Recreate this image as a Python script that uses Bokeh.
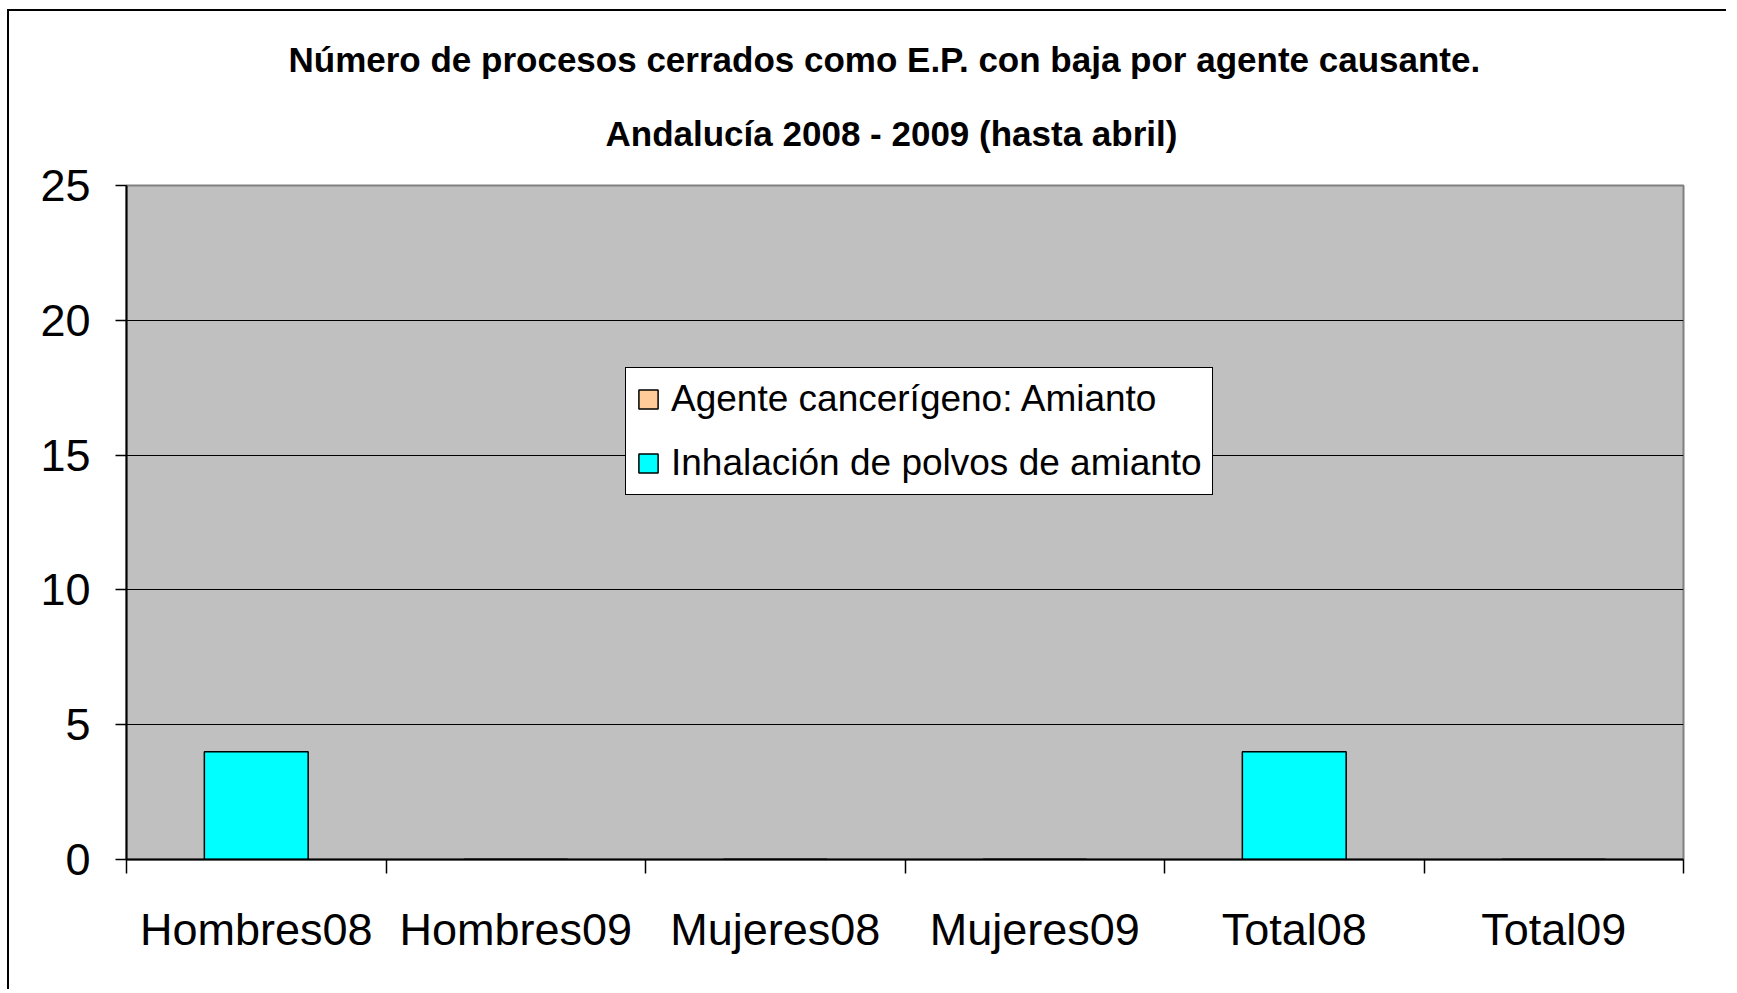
from bokeh.plotting import figure
from bokeh.models import Range1d, FixedTicker, Title, ColumnDataSource
from bokeh.embed import file_html
from bokeh.resources import INLINE

# ---- data ----
categories = ["Hombres08", "Hombres09", "Mujeres08", "Mujeres09", "Total08", "Total09"]
agente_amianto = [0, 0, 0, 0, 0, 0]
inhalacion_polvos = [4, 0, 0, 0, 4, 0]
series_names = ["Agente cancerígeno: Amianto", "Inhalación de polvos de amianto"]
y_ticks = [0, 5, 10, 15, 20, 25]
title_lines = ["Número de procesos cerrados como E.P. con baja por agente causante.",
               "Andalucía 2008 - 2009 (hasta abril)"]

FONT = "Liberation Sans"

n = len(categories)
xs = list(range(n))
source = ColumnDataSource(dict(x=xs, agente=agente_amianto, inhal=inhalacion_polvos))

p = figure(width=1719, height=980,
           x_range=Range1d(-0.5, n - 0.5), y_range=Range1d(y_ticks[0], y_ticks[-1]),
           output_backend="svg", toolbar_location=None,
           min_border_left=117, min_border_right=45,
           min_border_top=174, min_border_bottom=132)

p.styles = {"margin-left": "7px", "margin-top": "9px",
            "border-left": "2px solid black", "border-top": "2px solid black"}
p.background_fill_color = "#C0C0C0"
p.border_fill_color = "white"
p.outline_line_color = "#808080"
p.outline_line_width = 2

# grid
p.xgrid.visible = False
p.ygrid.ticker = FixedTicker(ticks=y_ticks[1:-1])
p.ygrid.grid_line_color = "black"
p.ygrid.grid_line_width = 1.2

# bars
p.vbar_stack(["agente", "inhal"], x="x", width=0.4, source=source,
             fill_color=["#FFCC99", "#00FFFF"], line_color="black", line_width=1.5,
             legend_label=series_names)

# y axis
yax = p.yaxis[0]
yax.ticker = FixedTicker(ticks=y_ticks)
yax.major_tick_out = 11
yax.major_tick_in = 0
yax.minor_tick_out = 0
yax.minor_tick_in = 0
yax.major_tick_line_color = "black"
yax.major_tick_line_width = 1.5
yax.axis_line_color = "black"
yax.axis_line_width = 2
yax.major_label_text_font = FONT
yax.major_label_text_font_size = "45px"
yax.major_label_text_color = "black"
yax.major_label_standoff = 25

# x axis
xax = p.xaxis[0]
xax.ticker = FixedTicker(ticks=xs, minor_ticks=[i - 0.5 for i in range(n + 1)])
xax.major_label_overrides = {i: c for i, c in zip(xs, categories)}
xax.major_tick_out = 0
xax.major_tick_in = 0
xax.minor_tick_out = 14
xax.minor_tick_in = 0
xax.minor_tick_line_color = "black"
xax.minor_tick_line_width = 1.5
xax.axis_line_color = "black"
xax.axis_line_width = 2
xax.major_label_text_font = FONT
xax.major_label_text_font_size = "45px"
xax.major_label_text_color = "black"
xax.major_label_standoff = 30

# title (two lines; later-added sits further from the frame)
p.add_layout(Title(text=title_lines[1], align="left", offset=479, standoff=66,
                   text_font=FONT, text_font_style="bold", text_font_size="35px",
                   text_color="black"), "above")
p.add_layout(Title(text=title_lines[0], align="left", offset=162, standoff=0,
                   text_font=FONT, text_font_style="bold", text_font_size="35px",
                   text_color="black"), "above")

# legend
lg = p.legend[0]
lg.location = (499, 364)
lg.label_text_font = FONT
lg.label_text_font_size = "37px"
lg.label_text_color = "black"
lg.glyph_width = 24
lg.glyph_height = 24
lg.label_standoff = 11
lg.padding = 10
lg.spacing = 22
lg.margin = 0
lg.border_line_color = "black"
lg.border_line_alpha = 1
lg.border_line_width = 1.5
lg.background_fill_color = "white"
lg.background_fill_alpha = 1

open("out.html", "w").write(file_html(p, INLINE))
